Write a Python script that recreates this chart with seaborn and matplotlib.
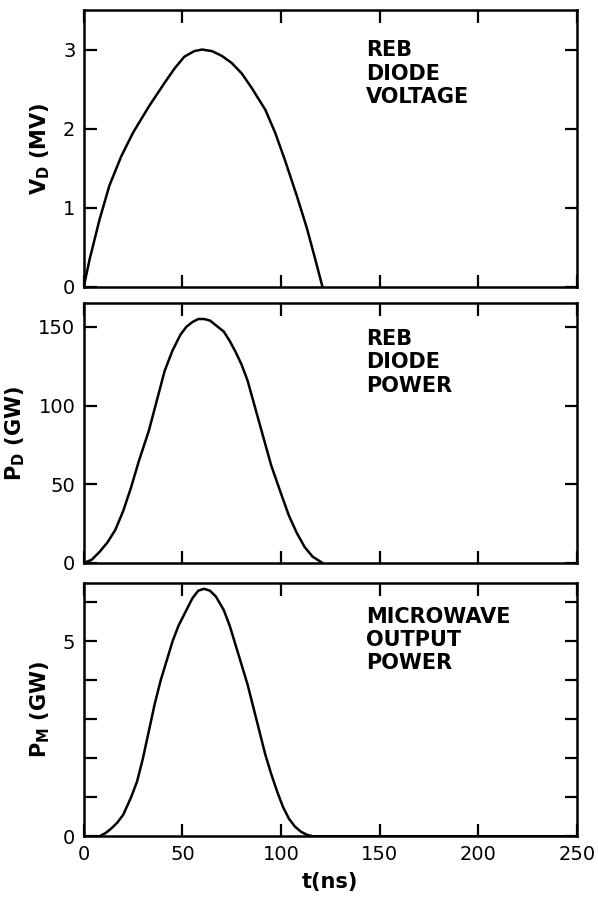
import numpy as np
import pandas as pd
import matplotlib
matplotlib.use("Agg")
import matplotlib.pyplot as plt
import seaborn as sns

# =========================
# DATA
# =========================
t_vd = [0, 3, 8, 13, 19, 25, 33, 41, 46, 51, 56, 60, 65, 70, 75, 80, 85, 92, 97, 102, 108, 113, 117, 121]
v_d = [0, 0.35, 0.85, 1.28, 1.65, 1.95, 2.28, 2.58, 2.76, 2.91, 2.98, 3.0, 2.98, 2.92, 2.83, 2.7, 2.52,
       2.24, 1.95, 1.6, 1.15, 0.75, 0.38, 0]

t_pd = [0, 4, 8, 12, 16, 20, 24, 28, 33, 37, 41, 45, 49, 52, 55, 58, 61, 64, 67, 71, 74, 77, 80, 83,
        87, 91, 95, 100, 104, 108, 112, 116, 121]
p_d = [0, 2, 7, 13, 21, 33, 48, 65, 84, 103, 122, 135, 145, 150, 153, 155, 155, 154, 151, 147, 141,
       134, 126, 116, 98, 80, 62, 44, 30, 19, 10, 4, 0]

t_pm = [0, 8, 11, 14, 17, 20, 24, 27, 30, 33, 36, 39, 42, 45, 48, 52, 55, 58, 61, 64, 67, 71, 74, 77,
        80, 83, 86, 89, 92, 95, 98, 101, 104, 107, 110, 113, 116, 250]
p_m = [0, 0, 0.08, 0.2, 0.35, 0.55, 1.0, 1.4, 2.0, 2.7, 3.4, 4.0, 4.5, 5.0, 5.4, 5.8, 6.1, 6.3, 6.35,
       6.3, 6.15, 5.8, 5.4, 4.9, 4.4, 3.9, 3.3, 2.7, 2.1, 1.6, 1.15, 0.75, 0.45, 0.25, 0.12, 0.04, 0, 0]

x_ticks = [0, 50, 100, 150, 200, 250]
x_ticklabels = ["0", "50", "100", "150", "200", "250"]

panel_text = ["REB\nDIODE\nVOLTAGE", "REB\nDIODE\nPOWER", "MICROWAVE\nOUTPUT\nPOWER"]
panel_text_y = [0.89, 0.90, 0.905]
panel_ylabel = ["V$_\\mathregular{D}$ (MV)", "P$_\\mathregular{D}$ (GW)", "P$_\\mathregular{M}$ (GW)"]

# =========================
# STYLE
# =========================
sns.set_style("ticks")
plt.rcParams["font.family"] = ["DejaVu Sans"]
plt.rcParams["axes.linewidth"] = 1.8
plt.rcParams["axes.edgecolor"] = "black"
plt.rcParams["xtick.color"] = "black"
plt.rcParams["ytick.color"] = "black"
plt.rcParams["text.color"] = "black"
plt.rcParams["axes.labelcolor"] = "black"

fig = plt.figure(figsize=(5.98, 9.08), dpi=100)

ax1 = fig.add_axes([0.140, 0.684, 0.825, 0.305])
ax2 = fig.add_axes([0.140, 0.380, 0.825, 0.286])
ax3 = fig.add_axes([0.140, 0.079, 0.825, 0.279])

df1 = pd.DataFrame({"t": t_vd, "y": v_d})
df2 = pd.DataFrame({"t": t_pd, "y": p_d})
df3 = pd.DataFrame({"t": t_pm, "y": p_m})

for ax, df in zip([ax1, ax2, ax3], [df1, df2, df3]):
    sns.lineplot(data=df, x="t", y="y", ax=ax, color="black", linewidth=1.8)

# =========================
# AXES
# =========================
ax1.set_ylim(0, 3.5)
ax1.set_yticks([0, 1, 2, 3])
ax1.set_yticklabels(["0", "1", "2", "3"])

ax2.set_ylim(0, 165)
ax2.set_yticks([0, 50, 100, 150])
ax2.set_yticklabels(["0", "50", "100", "150"])

ax3.set_ylim(0, 6.5)
ax3.set_yticks([0, 5])
ax3.set_yticklabels(["0", "5"])
ax3.set_yticks([1, 2, 3, 4, 6], minor=True)

for i, ax in enumerate([ax1, ax2, ax3]):
    ax.set_xlim(0, 250)
    ax.set_xticks(x_ticks)
    if i < 2:
        ax.set_xticklabels([])
    else:
        ax.set_xticklabels(x_ticklabels)
    ax.tick_params(which="both", direction="in", top=True, right=True,
                   length=9, width=1.6, labelsize=14, pad=6)
    ax.set_xlabel("")
    ax.set_ylabel(panel_ylabel[i], fontsize=15, fontweight="bold", labelpad=8)
    ax.text(143, panel_text_y[i], panel_text[i], transform=ax.get_xaxis_transform(),
            fontsize=15, fontweight="bold", va="top", ha="left", linespacing=1.2)

ax3.set_xlabel("t(ns)", fontsize=15, fontweight="bold", labelpad=6)

plt.savefig("out.png", dpi=100)
